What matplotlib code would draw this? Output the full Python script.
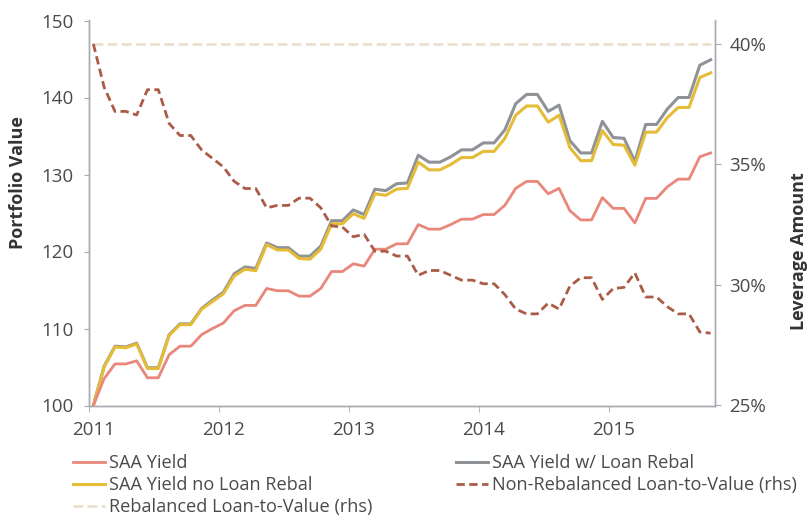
import numpy as np
import matplotlib.pyplot as plt

plt.rcParams['font.family'] = ['Open Sans', 'DejaVu Sans']

# monthly points, Jan 2011 .. Oct 2015
year_labels = ['2011', '2012', '2013', '2014', '2015']
year_pos = [0, 12, 24, 36, 48]

saa_yield = [100.0, 103.5, 105.4, 105.4, 105.8, 103.6, 103.6, 106.6, 107.7, 107.7,
             109.2, 110.0, 110.7, 112.3, 113.0, 113.0, 115.2, 114.9, 114.9, 114.2,
             114.2, 115.2, 117.4, 117.4, 118.4, 118.1, 120.3, 120.3, 121.0, 121.0,
             123.5, 122.9, 122.9, 123.5, 124.2, 124.2, 124.8, 124.8, 126.0, 128.2,
             129.1, 129.1, 127.5, 128.2, 125.3, 124.1, 124.1, 127.0, 125.6, 125.6,
             123.7, 126.9, 126.9, 128.4, 129.4, 129.4, 132.3, 132.8]

saa_no_rebal = [100.0, 105.0, 107.6, 107.5, 108.0, 104.8, 104.8, 109.1, 110.5, 110.5,
                112.5, 113.5, 114.5, 116.8, 117.7, 117.5, 120.9, 120.2, 120.2, 119.1,
                119.0, 120.3, 123.6, 123.6, 124.9, 124.3, 127.5, 127.3, 128.1, 128.2,
                131.6, 130.6, 130.6, 131.3, 132.2, 132.2, 133.0, 133.0, 134.7, 137.7,
                138.9, 138.9, 136.8, 137.7, 133.5, 131.8, 131.8, 135.7, 133.9, 133.8,
                131.2, 135.5, 135.5, 137.4, 138.7, 138.7, 142.6, 143.2]

saa_rebal = [100.0, 105.1, 107.7, 107.6, 108.1, 104.9, 104.9, 109.2, 110.6, 110.6,
             112.6, 113.7, 114.7, 117.1, 118.0, 117.8, 121.1, 120.5, 120.5, 119.4,
             119.4, 120.7, 124.0, 124.0, 125.4, 124.8, 128.1, 127.9, 128.8, 128.9,
             132.5, 131.6, 131.6, 132.3, 133.2, 133.2, 134.1, 134.1, 135.8, 139.2,
             140.4, 140.4, 138.2, 139.0, 134.4, 132.8, 132.8, 136.9, 134.8, 134.7,
             131.7, 136.5, 136.5, 138.5, 140.0, 140.0, 144.2, 144.9]

ltv_non_rebal = [40.0, 38.2, 37.2, 37.2, 37.05, 38.1, 38.1, 36.7, 36.2, 36.2,
                 35.6, 35.25, 34.9, 34.3, 34.0, 34.0, 33.2, 33.3, 33.3, 33.6,
                 33.6, 33.2, 32.45, 32.4, 32.0, 32.1, 31.4, 31.4, 31.2, 31.2,
                 30.4, 30.6, 30.6, 30.4, 30.2, 30.2, 30.05, 30.05, 29.6, 29.0,
                 28.8, 28.8, 29.25, 29.0, 29.95, 30.3, 30.3, 29.4, 29.85, 29.9,
                 30.5, 29.5, 29.5, 29.1, 28.8, 28.8, 28.05, 28.0]

ltv_rebal = [40.0] * len(ltv_non_rebal)

months = np.arange(len(saa_yield))

pink = '#E9877B'
gold = '#E4BC37'
grey = '#8F9297'
brown = '#AA5C47'
beige = '#EAE0CD'
spine_c = '#A9A9B1'
text_c = '#4A4A4A'

fig = plt.figure(figsize=(8.09, 5.15), dpi=100)
ax = fig.add_axes([89/809, 1-405.5/515, 626/809, 385/515])
ax2 = ax.twinx()

l_grey, = ax.plot(months, saa_rebal, color=grey, lw=2.2, label='SAA Yield w/ Loan Rebal')
l_gold, = ax.plot(months, saa_no_rebal, color=gold, lw=2.2, label='SAA Yield no Loan Rebal')
l_pink, = ax.plot(months, saa_yield, color=pink, lw=2.0, label='SAA Yield')
l_beige, = ax2.plot(months, ltv_rebal, color=beige, lw=2.0, dashes=(3.5, 1.6),
                    label='Rebalanced Loan-to-Value (rhs)')
l_brown, = ax2.plot(months, ltv_non_rebal, color=brown, lw=2.0, dashes=(3, 1.6),
                    label='Non-Rebalanced Loan-to-Value (rhs)')

ax.set_xlim(-0.4, 57.4)
ax.set_ylim(100, 150)
ax2.set_ylim(25, 40.97)

ax.set_yticks([100, 110, 120, 130, 140, 150])
ax2.set_yticks([25, 30, 35, 40])
ax2.set_yticklabels(['25%', '30%', '35%', '40%'])
ax.set_xticks(year_pos)
ax.set_xticklabels(year_labels)
ax.set_xticks([-0.4 + 12 * k for k in range(5)], minor=True)

for a in (ax, ax2):
    a.spines['top'].set_visible(False)
    for s in ('left', 'right', 'bottom'):
        a.spines[s].set_color(spine_c)
        a.spines[s].set_linewidth(1.0)
    a.set_facecolor('none')

ax.tick_params(axis='x', which='major', length=0, pad=11, labelsize=13.5, labelcolor=text_c)
ax.tick_params(axis='x', which='minor', length=4, color=spine_c)
ax.tick_params(axis='y', length=3.5, pad=7.5, color=spine_c, labelsize=13.5, labelcolor=text_c)
ax2.tick_params(axis='y', length=4.3, pad=6, color=spine_c, labelsize=13.5, labelcolor=text_c)

ax.set_ylabel('Portfolio Value', fontsize=13, fontweight='bold', color='#333333')
ax.yaxis.set_label_coords(-0.099, 0.578)
ax2.set_ylabel('Leverage Amount', fontsize=13, fontweight='bold', color='#333333')
ax2.yaxis.set_label_coords(1.12, 0.401)

handles = [l_pink, l_gold, l_beige, l_grey, l_brown]
fig.legend(handles, [h.get_label() for h in handles], ncol=2, frameon=False,
           loc='upper left', bbox_to_anchor=(73/809, 1 - 454/515),
           fontsize=13.1, labelcolor=text_c, handlelength=1.76, handletextpad=0.22,
           columnspacing=4.6, labelspacing=0.22, borderpad=0, borderaxespad=0)

fig.savefig('out.png', dpi=100)
